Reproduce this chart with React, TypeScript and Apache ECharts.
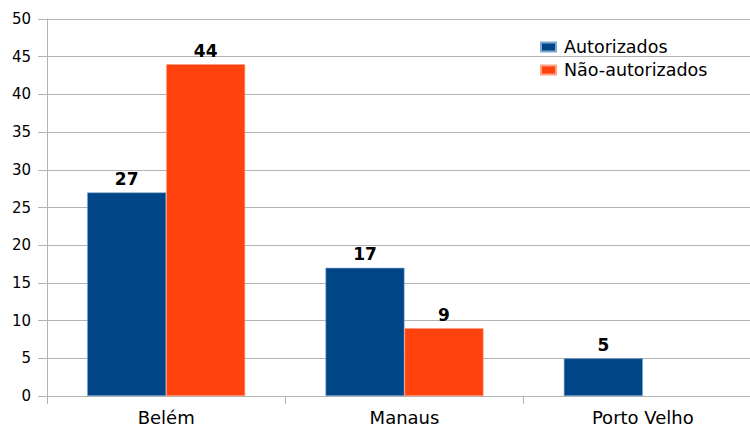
import React, { useEffect, useRef } from "react";
import * as echarts from "echarts";

const categories = ["Belém", "Manaus", "Porto Velho"];
const autorizados = [27, 17, 5];
const naoAutorizados: (number | null)[] = [44, 9, null];
const seriesNames = ["Autorizados", "Não-autorizados"];

export default function App() {
  const ref = useRef<HTMLDivElement>(null);
  useEffect(() => {
    if (!ref.current) return;
    const chart = echarts.init(ref.current, undefined, { renderer: "svg" });
    const font = "'DejaVu Sans', Verdana, sans-serif";
    const labelStyle = {
      show: true,
      position: "top" as const,
      distance: 5,
      color: "#000",
      fontWeight: "bold" as const,
      fontSize: 17,
      fontFamily: font,
    };
    chart.setOption({
      animation: false,
      backgroundColor: "#fff",
      textStyle: { fontFamily: font },
      grid: { left: 47, right: 8, top: 19, bottom: 30, containLabel: false },
      legend: {
        orient: "vertical",
        left: 535,
        top: 33,
        itemWidth: 15,
        itemHeight: 9,
        itemGap: 5,
        icon: "rect",
        textStyle: { fontSize: 17.5, color: "#000", fontFamily: font, padding: [0, 0, 0, 3] },
        data: seriesNames,
      },
      xAxis: {
        type: "category",
        data: categories,
        axisLine: { lineStyle: { color: "#b3b3b3", width: 1 } },
        axisTick: { show: true, length: 8, lineStyle: { color: "#b3b3b3" } },
        axisLabel: { color: "#000", fontSize: 18, margin: 12, fontFamily: font },
      },
      yAxis: {
        type: "value",
        min: 0,
        max: 50,
        interval: 5,
        axisLine: { show: true, lineStyle: { color: "#b3b3b3", width: 1 } },
        axisTick: { show: true, length: 9, lineStyle: { color: "#b3b3b3" } },
        axisLabel: { color: "#000", fontSize: 15, margin: 16, fontFamily: font },
        splitLine: { show: true, lineStyle: { color: "#b3b3b3", width: 1 } },
      },
      series: [
        {
          name: seriesNames[0],
          type: "bar",
          data: autorizados,
          barWidth: 79,
          barGap: "0%",
          itemStyle: { color: "#004586", borderColor: "#7fa8d0", borderWidth: 0.6 },
          label: labelStyle,
        },
        {
          name: seriesNames[1],
          type: "bar",
          data: naoAutorizados,
          barWidth: 79,
          barGap: "0%",
          itemStyle: { color: "#ff420e", borderColor: "#ffa080", borderWidth: 0.6 },
          label: labelStyle,
        },
      ],
    });
    return () => chart.dispose();
  }, []);
  return (
    <div
      style={{
        position: "fixed",
        left: 0,
        top: 0,
        width: 750,
        height: 426,
        overflow: "hidden",
        background: "#fff",
      }}
    >
      <div ref={ref} style={{ width: 770, height: 426 }} />
    </div>
  );
}
